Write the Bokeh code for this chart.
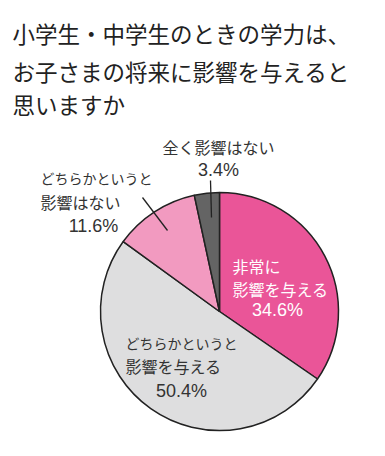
import math
from bokeh.plotting import figure
from bokeh.models import Range1d, ColumnDataSource
from bokeh.core.properties import value
from bokeh.embed import file_html
from bokeh.resources import INLINE

# ---- data ----
categories = ["非常に影響を与える", "どちらかというと影響を与える", "どちらかというと影響はない", "全く影響はない"]
percents = [34.6, 50.4, 11.6, 3.4]
colors = ["#EA5598", "#DEDEDF", "#F29AC0", "#646464"]
title_lines = ["小学生・中学生のときの学力は、", "お子さまの将来に影響を与えると", "思いますか"]

W, H = 377, 448
JP = value("Noto Sans CJK JP")
NUM = value("Liberation Sans")


def Y(img_y):
    return H - img_y


p = figure(width=W, height=H, output_backend="svg", toolbar_location=None,
           x_range=Range1d(0, W), y_range=Range1d(0, H),
           min_border=0)
p.axis.visible = False
p.grid.visible = False
p.outline_line_color = None
p.background_fill_color = "white"
p.border_fill_color = "white"

# ---- pie ----
cx, cy, r = 219, Y(311), 119
total = sum(percents)
starts, ends = [], []
acc = 0.0
for v in percents:
    a0 = math.pi / 2 - 2 * math.pi * acc / total
    acc += v
    a1 = math.pi / 2 - 2 * math.pi * acc / total
    starts.append(a0)
    ends.append(a1)
src = ColumnDataSource(dict(cat=categories, pct=percents, start=starts, end=ends, color=colors))
p.wedge(x=cx, y=cy, radius=r, start_angle="start", end_angle="end", direction="clock",
        fill_color="color", line_color="#222222", line_width=1.5, source=src)

# ---- leader lines ----
p.line(x=[210, 211], y=[Y(180), Y(217)], line_color="#222222", line_width=1.3)
p.line(x=[142, 167], y=[Y(197), Y(230)], line_color="#222222", line_width=1.3)

# ---- title ----
for t, yy in zip(title_lines, [32, 70, 103]):
    p.text(x=[12], y=[Y(yy)], text=[t], text_font=JP, text_font_size="22.5px",
           text_color="#222222", text_baseline="middle", text_align="left")


def jp(x, y, t, color="#333333", align="center", size="16px"):
    p.text(x=[x], y=[Y(y)], text=[t], text_font=JP, text_font_size=size,
           text_color=color, text_baseline="middle", text_align=align)


def num(x, y, v, color="#333333"):
    p.text(x=[x], y=[Y(y)], text=[f"{v:.1f}%"], text_font=NUM, text_font_size="18px",
           text_color=color, text_baseline="middle", text_align="center")


# 全く影響はない
jp(218, 146, "全く影響はない")
num(218, 169, percents[3])
# どちらかというと影響はない
jp(40, 177, "どちらかというと", align="left", size="14px")
jp(40, 201, "影響はない", align="left")
num(93, 225, percents[2])
# 非常に影響を与える
jp(232, 265, "非常に", color="white", align="left")
jp(232, 288, "影響を与える", color="white", align="left")
num(277, 309, percents[0], color="white")
# どちらかというと影響を与える
jp(125, 342, "どちらかというと", align="left", size="14px")
jp(125, 365, "影響を与える", align="left")
num(181, 390, percents[1])

open("out.html", "w").write(file_html(p, INLINE))
